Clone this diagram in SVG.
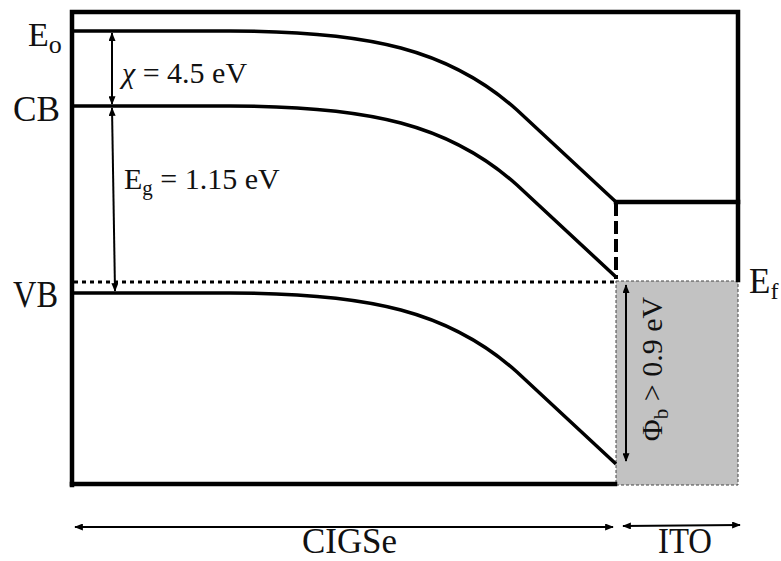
<svg xmlns="http://www.w3.org/2000/svg" width="781" height="561" viewBox="0 0 781 561">
  <style>
    .box { stroke: #000; stroke-width: 4.5; fill: none; stroke-linecap: square; }
    .band { stroke: #000; stroke-width: 3.5; fill: none; stroke-linejoin: round; }
    .dim { stroke: #000; stroke-width: 2; fill: none; marker-start: url(#ah); marker-end: url(#ah); }
    text { fill: #111; font-family: "Liberation Serif", "Times New Roman", "DejaVu Serif", serif; }
  </style>
  <defs>
    <marker id="ah" viewBox="0 0 10 8" refX="9" refY="4" markerWidth="9" markerHeight="7" markerUnits="userSpaceOnUse" orient="auto-start-reverse">
      <path d="M0,0 L10,4 L0,8 z" fill="#000"/>
    </marker>
    <path id="bandshape" d="M72,31 L230,31 C370,31 450,50 517,110 L616,202"/>
  </defs>

  <g id="ito-region">
    <rect x="616" y="281" width="122" height="204" fill="#c2c2c2" stroke="#444" stroke-width="1" stroke-dasharray="3,2"/>
  </g>

  <g id="frame">
    <path class="box" d="M72,485 L72,12 L738,12 L738,280"/>
    <path class="box" d="M72,484 L615,484"/>
    <path class="box" d="M616,202 L738,202"/>
    <path d="M616,203 L616,279" stroke="#000" stroke-width="4" stroke-dasharray="13,5" fill="none"/>
    <path d="M74,282 L614,282" stroke="#000" stroke-width="3" stroke-dasharray="4,4" fill="none"/>
  </g>

  <g id="bands">
    <use id="Eo-band" href="#bandshape" class="band"/>
    <use id="CB-band" href="#bandshape" class="band" transform="translate(0,75)"/>
    <use id="VB-band" href="#bandshape" class="band" transform="translate(0,262)"/>
  </g>

  <g id="connectors">
    <line class="dim" x1="112" y1="33" x2="112" y2="104"/>
    <line class="dim" x1="112" y1="108" x2="115" y2="291"/>
    <line class="dim" x1="626" y1="285" x2="626" y2="461"/>
    <line class="dim" x1="75" y1="527" x2="613" y2="527"/>
    <line class="dim" x1="623" y1="526" x2="740" y2="525"/>
  </g>

  <g id="labels">
    <text x="28" y="46" font-size="34">E<tspan font-size="26" dy="7">o</tspan></text>
    <text x="13" y="121" font-size="36" textLength="47" lengthAdjust="spacingAndGlyphs">CB</text>
    <text x="13" y="307" font-size="37" textLength="45" lengthAdjust="spacingAndGlyphs">VB</text>
    <text x="749" y="293" font-size="35">E<tspan font-size="24" dy="6">f</tspan></text>
    <text x="122" y="83" font-size="30"><tspan font-style="italic">χ</tspan> = 4.5 eV</text>
    <text x="124" y="189" font-size="30">E<tspan font-size="21" dy="6">g</tspan><tspan dy="-6"> = 1.15 eV</tspan></text>
    <text transform="translate(662,369) rotate(-90)" x="0" y="0" font-size="30" text-anchor="middle">Φ<tspan font-size="21" dy="6">b</tspan><tspan dy="-6"> &gt; 0.9 eV</tspan></text>
    <text x="302" y="553" font-size="36" textLength="95" lengthAdjust="spacingAndGlyphs">CIGSe</text>
    <text x="658" y="553" font-size="36" textLength="54" lengthAdjust="spacingAndGlyphs">ITO</text>
  </g>
</svg>
